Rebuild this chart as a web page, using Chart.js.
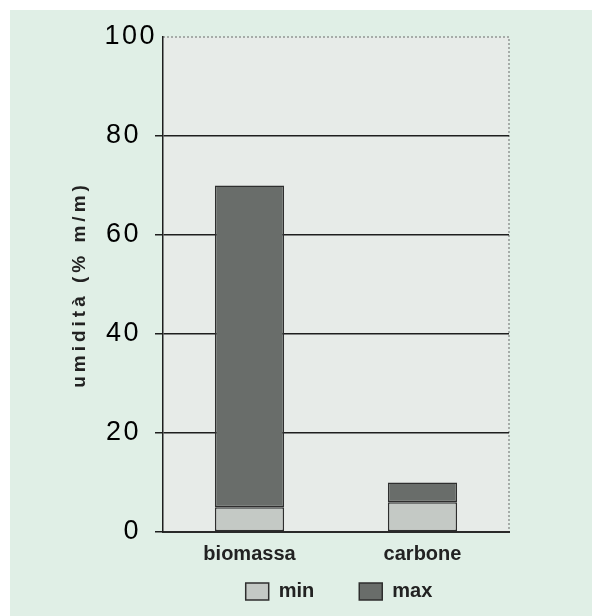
<!DOCTYPE html>
<html lang="it">
<head>
    <meta charset="UTF-8">
    <title>Umidità</title>
    <script src="https://cdn.jsdelivr.net/npm/chart.js"></script>
    <style>
        body { margin: 0; background: #fff; }
        canvas { display: block; }
    </style>
</head>
<body>
    <canvas id="umidita" width="592" height="616"></canvas>
    <script>
        const categories = ['biomassa', 'carbone'];
        const minValues = [5, 6];
        const maxValues = [70, 10];
        const yMin = 0, yMax = 100, yStep = 20;

        // green panel + grey plot area + dotted top/right frame
        const background = {
            id: 'background',
            beforeDraw(chart) {
                const { ctx, chartArea: a } = chart;
                ctx.save();
                ctx.fillStyle = '#ffffff';
                ctx.fillRect(0, 0, chart.width, chart.height);
                ctx.fillStyle = '#e0efe6';
                ctx.fillRect(10, 10, chart.width - 10, chart.height - 10);
                ctx.fillStyle = '#e7ebe8';
                ctx.fillRect(a.left, a.top, a.right - a.left, a.bottom - a.top);
                ctx.strokeStyle = '#939794';
                ctx.lineWidth = 1.5;
                ctx.setLineDash([2, 2]);
                ctx.beginPath();
                ctx.moveTo(a.left, a.top);
                ctx.lineTo(a.right, a.top);
                ctx.lineTo(a.right, a.bottom);
                ctx.stroke();
                ctx.restore();
            }
        };

        // the scan has widely spaced lettering on the y axis,
        // and its top label "100" sits further right than the others
        const spacedText = {
            id: 'spacedText',
            beforeDraw(chart) {
                const y = chart.scales.y;
                if (y._spaced) return;
                y._spaced = true;
                const wrap = (fn, ls) => function () {
                    const c = this.ctx, old = c.letterSpacing;
                    c.letterSpacing = ls;
                    fn.apply(this, arguments);
                    c.letterSpacing = old;
                };
                y.drawTitle = wrap(y.drawTitle, '4px');
                y.drawLabels = wrap(y.drawLabels, '2.5px');
                const getItems = y.getLabelItems;
                y.getLabelItems = function (area) {
                    const items = getItems.call(this, area);
                    items.forEach(it => {
                        if (it.label === String(yMax) && !it._moved) {
                            it._moved = true;
                            it.options.translation[0] += 16;
                        }
                    });
                    return items;
                };
            }
        };

        // legend centred under the plot area, 51px below the axis
        const legendUnderPlot = {
            id: 'legendUnderPlot',
            afterLayout(chart) {
                const a = chart.chartArea, lg = chart.legend;
                const pad = lg.options.labels.padding;
                lg.left = a.left + 3;
                lg.right = a.right + 3;
                lg.width = lg.right - lg.left;
                lg.top = a.bottom + 49.5 - pad;
                lg.bottom = lg.top + lg.height;
            }
        };

        const gridColor = c => c.tick && c.tick.value === yMax ? 'rgba(0,0,0,0)' : '#1e1e1e';

        new Chart(document.getElementById('umidita').getContext('2d'), {
            type: 'bar',
            data: {
                labels: categories,
                datasets: [{
                    label: 'min',
                    data: minValues,
                    backgroundColor: '#c4c9c5',
                    borderColor: '#2e2e2e',
                    borderWidth: 1.5,
                    borderSkipped: false
                }, {
                    label: 'max',
                    data: maxValues.map((v, i) => [minValues[i], v]),
                    backgroundColor: '#696d6a',
                    borderColor: '#2e2e2e',
                    borderWidth: 1.5,
                    borderSkipped: false
                }]
            },
            options: {
                responsive: false,
                animation: false,
                barPercentage: 0.8,
                categoryPercentage: 0.5,
                layout: { padding: { left: 0, right: 83, top: 37, bottom: -31 } },
                plugins: {
                    tooltip: { enabled: false },
                    legend: {
                        position: 'bottom',
                        labels: {
                            boxWidth: 23,
                            boxHeight: 17,
                            padding: 45,
                            color: '#222',
                            font: { family: 'Liberation Sans', size: 20, weight: 'bold' }
                        }
                    }
                },
                scales: {
                    x: {
                        stacked: true,
                        grid: { display: false },
                        border: { display: true, color: '#2a2a2a', width: 2 },
                        ticks: {
                            color: '#222',
                            padding: 2,
                            font: { family: 'Liberation Sans', size: 20, weight: 'bold' }
                        },
                        afterFit: s => { s.height = 40; }
                    },
                    y: {
                        min: yMin,
                        max: yMax,
                        ticks: {
                            stepSize: yStep,
                            padding: 14,
                            color: '#000',
                            font: { family: 'Liberation Sans', size: 27 }
                        },
                        grid: {
                            color: gridColor,
                            tickColor: gridColor,
                            lineWidth: 1.5,
                            tickLength: 8
                        },
                        border: { display: true, color: '#1e1e1e', width: 1.5 },
                        title: {
                            display: true,
                            text: 'umidità (% m/m)',
                            color: '#222',
                            padding: { top: 68, bottom: 0 },
                            font: { family: 'Liberation Sans', size: 19, weight: 'bold' }
                        },
                        afterFit: s => { s.width = 163; }
                    }
                }
            },
            plugins: [background, spacedText, legendUnderPlot]
        });
    </script>
</body>
</html>
